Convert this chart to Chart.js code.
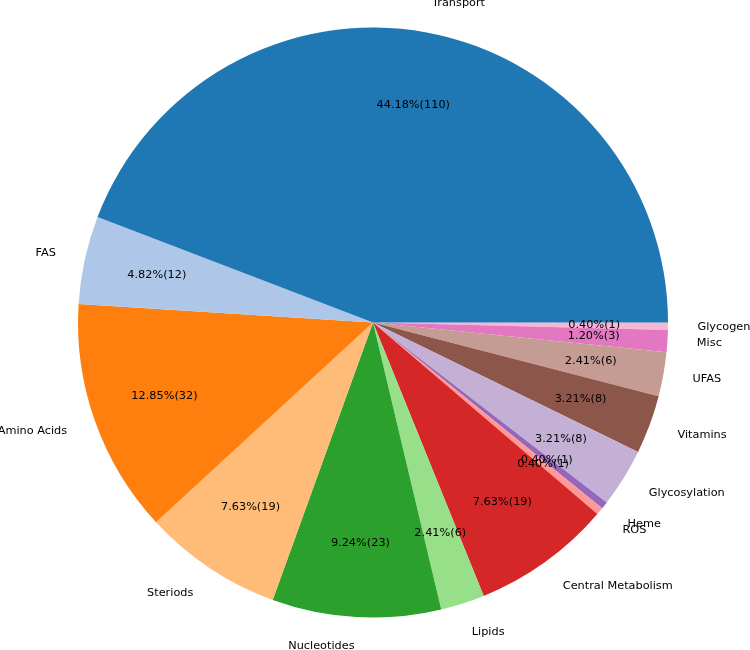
<!DOCTYPE html>
<html>
<head>
<meta charset="utf-8">
<script src="https://cdn.jsdelivr.net/npm/chart.js@4/dist/chart.umd.min.js"></script>
<style>
html,body{margin:0;padding:0;background:#fff;}
canvas{display:block;}
</style>
</head>
<body>
<canvas id="c" width="750" height="650"></canvas>
<script>
// Data (matplotlib order: counter-clockwise starting at 3 o'clock)
const categories = ["Transport","FAS","Amino Acids","Steriods","Nucleotides","Lipids","Central Metabolism","ROS","Heme","Glycosylation","Vitamins","UFAS","Misc","Glycogen"];
const counts = [110,12,32,19,23,6,19,1,1,8,8,6,3,1];
const colors = ["#1f77b4","#aec7e8","#ff7f0e","#ffbb78","#2ca02c","#98df8a","#d62728","#ff9896","#9467bd","#c5b0d5","#8c564b","#c49c94","#e377c2","#f7b6d2"];

const total = counts.reduce((a,b)=>a+b,0);
// Chart.js draws clockwise, so reverse to get matplotlib's counter-clockwise order
const labelsR = categories.slice().reverse();
const countsR = counts.slice().reverse();
const colorsR = colors.slice().reverse();

const FONT = '11.3px "DejaVu Sans"';

const labelPlugin = {
  id: 'pieLabels',
  afterDatasetsDraw(chart){
    const ctx = chart.ctx;
    const meta = chart.getDatasetMeta(0);
    ctx.save();
    ctx.font = FONT;
    ctx.fillStyle = '#000';
    ctx.textBaseline = 'middle';
    meta.data.forEach((arc, i) => {
      const mid = (arc.startAngle + arc.endAngle)/2;
      const r = arc.outerRadius;
      const c = Math.cos(mid), s = Math.sin(mid);
      // outside label
      ctx.textAlign = c > 0 ? 'left' : 'right';
      ctx.fillText(labelsR[i], arc.x + c*1.1*r, arc.y + s*1.1*r);
      // percentage label
      const v = countsR[i];
      const pct = (v/total*100).toFixed(2) + '%(' + v + ')';
      ctx.textAlign = 'center';
      ctx.fillText(pct, arc.x + c*0.75*r, arc.y + s*0.75*r);
    });
    ctx.restore();
  }
};

new Chart(document.getElementById('c'), {
  type: 'pie',
  data: {
    labels: labelsR,
    datasets: [{
      data: countsR,
      backgroundColor: colorsR,
      borderWidth: 0,
      hoverOffset: 0
    }]
  },
  options: {
    responsive: false,
    animation: false,
    rotation: 90,
    layout: { padding: { left: 78, right: 82, top: 27.5, bottom: 32.5 } },
    plugins: {
      legend: { display: false },
      tooltip: { enabled: false }
    },
    events: []
  },
  plugins: [labelPlugin]
});
</script>
</body>
</html>
